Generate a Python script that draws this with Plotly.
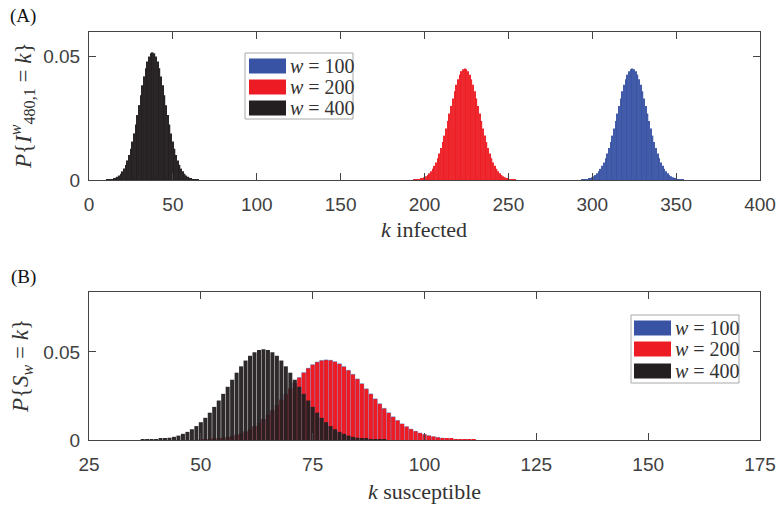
import plotly.graph_objects as go

# ---------------- data ----------------
# Panel A: P{I^w_{480,1} = k}
a_w400_k0 = 11
a_w400 = [0.0001, 0.0002, 0.0003, 0.0004, 0.0006, 0.0009, 0.0013, 0.0018, 0.0025, 0.0035,
          0.0046, 0.0061, 0.0079, 0.0101, 0.0126, 0.0155, 0.0188, 0.0224, 0.0262, 0.0302,
          0.0342, 0.0382, 0.0418, 0.0451, 0.0478, 0.0498, 0.0511, 0.0515, 0.0511, 0.0498,
          0.0478, 0.0451, 0.0418, 0.0382, 0.0342, 0.0302, 0.0262, 0.0224, 0.0188, 0.0155,
          0.0126, 0.0101, 0.0079, 0.0061, 0.0046, 0.0035, 0.0025, 0.0018, 0.0013, 0.0009,
          0.0006, 0.0004, 0.0003, 0.0002, 0.0001]

a_w200_k0 = 194
a_w200 = [0.0001, 0.0002, 0.0003, 0.0004, 0.0006, 0.0008, 0.0011, 0.0015, 0.0020, 0.0027,
          0.0035, 0.0045, 0.0057, 0.0071, 0.0088, 0.0107, 0.0129, 0.0153, 0.0179, 0.0208,
          0.0238, 0.0268, 0.0299, 0.0329, 0.0358, 0.0384, 0.0406, 0.0425, 0.0439, 0.0447,
          0.0450, 0.0447, 0.0439, 0.0425, 0.0406, 0.0384, 0.0358, 0.0329, 0.0299, 0.0268,
          0.0238, 0.0208, 0.0179, 0.0153, 0.0129, 0.0107, 0.0088, 0.0071, 0.0057, 0.0045,
          0.0035, 0.0027, 0.0020, 0.0015, 0.0011, 0.0008, 0.0006, 0.0004, 0.0003, 0.0002,
          0.0001]

a_w100_k0 = 294
a_w100 = [0.0001, 0.0002, 0.0003, 0.0004, 0.0006, 0.0008, 0.0011, 0.0015, 0.0020, 0.0027,
          0.0035, 0.0045, 0.0057, 0.0071, 0.0088, 0.0107, 0.0129, 0.0153, 0.0179, 0.0208,
          0.0238, 0.0268, 0.0299, 0.0329, 0.0358, 0.0384, 0.0406, 0.0425, 0.0439, 0.0447,
          0.0450, 0.0447, 0.0439, 0.0425, 0.0406, 0.0384, 0.0358, 0.0329, 0.0299, 0.0268,
          0.0238, 0.0208, 0.0179, 0.0153, 0.0129, 0.0107, 0.0088, 0.0071, 0.0057, 0.0045,
          0.0035, 0.0027, 0.0020, 0.0015, 0.0011, 0.0008, 0.0006, 0.0004, 0.0003, 0.0002,
          0.0001]

# Panel B: P{S_w = k}
b_w400_k0 = 37
b_w400 = [0.0001, 0.0002, 0.0003, 0.0004, 0.0006, 0.0009, 0.0013, 0.0018, 0.0025, 0.0035,
          0.0046, 0.0061, 0.0079, 0.0101, 0.0126, 0.0155, 0.0188, 0.0224, 0.0262, 0.0302,
          0.0342, 0.0382, 0.0418, 0.0451, 0.0478, 0.0498, 0.0511, 0.0515, 0.0511, 0.0498,
          0.0478, 0.0451, 0.0418, 0.0382, 0.0342, 0.0302, 0.0262, 0.0224, 0.0188, 0.0155,
          0.0126, 0.0101, 0.0079, 0.0061, 0.0046, 0.0035, 0.0025, 0.0018, 0.0013, 0.0009,
          0.0006, 0.0004, 0.0003, 0.0002, 0.0001]

b_w200_k0 = 50
b_w200 = [0.0002, 0.0003, 0.0004, 0.0006, 0.0008, 0.0012, 0.0016, 0.0021, 0.0028, 0.0037,
          0.0048, 0.0061, 0.0077, 0.0095, 0.0117, 0.0141, 0.0167, 0.0196, 0.0227, 0.0259,
          0.0291, 0.0323, 0.0353, 0.0381, 0.0406, 0.0426, 0.0441, 0.0450, 0.0453, 0.0451,
          0.0443, 0.0431, 0.0415, 0.0394, 0.0371, 0.0345, 0.0318, 0.0289, 0.0260, 0.0232,
          0.0204, 0.0178, 0.0153, 0.0130, 0.0110, 0.0091, 0.0075, 0.0061, 0.0049, 0.0039,
          0.0031, 0.0024, 0.0019, 0.0014, 0.0011, 0.0008, 0.0006, 0.0004, 0.0003, 0.0002,
          0.0002, 0.0001]

b_w100_k0 = 50
b_w100 = [0.0002, 0.0003, 0.0004, 0.0006, 0.0009, 0.0012, 0.0016, 0.0022, 0.0029, 0.0038,
          0.0049, 0.0062, 0.0078, 0.0097, 0.0118, 0.0143, 0.0169, 0.0198, 0.0229, 0.0261,
          0.0293, 0.0325, 0.0355, 0.0383, 0.0408, 0.0428, 0.0443, 0.0452, 0.0455, 0.0453,
          0.0445, 0.0433, 0.0417, 0.0396, 0.0373, 0.0347, 0.0320, 0.0291, 0.0262, 0.0234,
          0.0206, 0.0180, 0.0155, 0.0132, 0.0111, 0.0092, 0.0076, 0.0062, 0.0050, 0.0040,
          0.0032, 0.0025, 0.0019, 0.0015, 0.0011, 0.0008, 0.0006, 0.0004, 0.0003, 0.0002,
          0.0002, 0.0001]

legend_labels = ["100", "200", "400"]
a_xticks = [0, 50, 100, 150, 200, 250, 300, 350, 400]
b_xticks = [25, 50, 75, 100, 125, 150, 175]
y_ticks = [0, 0.05]
y_ticklabels = ["0", "0.05"]

# ---------------- style ----------------
BLUE = "#3953a4"
RED = "#ed1c24"
BLACK = "#231f20"
W, H = 780, 506
TICKFONT = dict(family="Liberation Sans", size=19, color="#404040")
SERIF = "Liberation Serif"


def px_x(p):
    return p / W


def px_y(p):
    return 1 - p / H


fig = go.Figure()


def add_bars(k0, vals, color, xa, ya, width, opacity=1.0, line_color=None, lw=0.5):
    ks = list(range(k0, k0 + len(vals)))
    fig.add_trace(go.Bar(
        x=ks, y=vals, xaxis=xa, yaxis=ya, width=width,
        marker=dict(color=color, opacity=opacity,
                    line=dict(width=lw if line_color else 0, color=line_color or color)),
        showlegend=False, hoverinfo="skip"))


# panel A
add_bars(a_w100_k0, a_w100, BLUE, "x", "y", 0.8, 0.95)
add_bars(a_w200_k0, a_w200, RED, "x", "y", 0.8, 0.95)
add_bars(a_w400_k0, a_w400, BLACK, "x", "y", 0.9, 0.97)
# panel B
add_bars(b_w100_k0, b_w100, BLUE, "x2", "y2", 0.88, 1.0, "#8d9fd0")
add_bars(b_w200_k0, b_w200, RED, "x2", "y2", 0.88, 1.0)
add_bars(b_w400_k0, b_w400, BLACK, "x2", "y2", 0.9, 0.95)

xdom = [px_x(89), px_x(760)]
axis_common = dict(showline=True, linecolor="#444444", linewidth=1, mirror="ticks",
                   ticks="inside", ticklen=7, tickwidth=1, tickcolor="#444444",
                   showgrid=False, zeroline=False, tickfont=TICKFONT, automargin=False)

fig.update_layout(
    width=W, height=H, margin=dict(l=0, r=0, t=0, b=0, autoexpand=False),
    paper_bgcolor="white", plot_bgcolor="white",
    barmode="overlay", showlegend=False,
    xaxis=dict(domain=xdom, range=[0, 400], tickvals=a_xticks, anchor="y",
               ticklabelstandoff=7, **axis_common),
    yaxis=dict(domain=[px_y(180), px_y(32)], range=[0, 0.0597], tickvals=y_ticks,
               ticktext=y_ticklabels, anchor="x", ticklabelstandoff=4, **axis_common),
    xaxis2=dict(domain=xdom, range=[25, 175], tickvals=b_xticks, anchor="y2",
                ticklabelstandoff=7, **axis_common),
    yaxis2=dict(domain=[px_y(440), px_y(292)], range=[0, 0.084], tickvals=y_ticks,
                ticktext=y_ticklabels, anchor="x2", ticklabelstandoff=4, **axis_common),
)

annots = []
shapes = []


def text(x, y, s, size=21, angle=0, xanchor="center", family=SERIF, color="#333333"):
    annots.append(dict(x=px_x(x), y=px_y(y), xref="paper", yref="paper", text=s,
                       showarrow=False, textangle=angle, xanchor=xanchor, yanchor="middle",
                       font=dict(family=family, size=size, color=color)))


# panel labels
text(23, 16, "(A)", size=19, color="#111111")
text(23, 277, "(B)", size=19, color="#111111")
# axis titles
text(424.5, 229, "<i>k</i> infected", size=22)
text(424.5, 491, "<i>k</i> susceptible", size=22)
text(22, 106, "<i>P</i>{<i>I</i><sup><i>w</i></sup><sub>480,1</sub> = <i>k</i>}", size=23, angle=-90)
text(22, 366, "<i>P</i>{<i>S</i><sub><i>w</i></sub> = <i>k</i>}", size=23, angle=-90)


def legend(x0, y0, x1, y1, sw_x0, sw_x1, rows):
    shapes.append(dict(type="rect", xref="paper", yref="paper",
                       x0=px_x(x0), x1=px_x(x1), y0=px_y(y1), y1=px_y(y0),
                       line=dict(color="#a8a8a8", width=1), fillcolor="white", layer="above"))
    for (yc, col, lab) in rows:
        shapes.append(dict(type="rect", xref="paper", yref="paper",
                           x0=px_x(sw_x0), x1=px_x(sw_x1), y0=px_y(yc + 7.5), y1=px_y(yc - 7.5),
                           line=dict(width=0), fillcolor=col, layer="above"))
        text(sw_x1 + 2, yc, "<i>w</i> = " + lab, size=20, xanchor="left")


cols = [BLUE, RED, BLACK]
legend(245, 53, 353, 119, 249, 286,
       [(66, cols[0], legend_labels[0]), (87, cols[1], legend_labels[1]), (108, cols[2], legend_labels[2])])
legend(631, 315, 739, 383, 634, 671,
       [(328, cols[0], legend_labels[0]), (349, cols[1], legend_labels[1]), (371, cols[2], legend_labels[2])])

fig.update_layout(annotations=annots, shapes=shapes)
fig.write_html("out.html")
